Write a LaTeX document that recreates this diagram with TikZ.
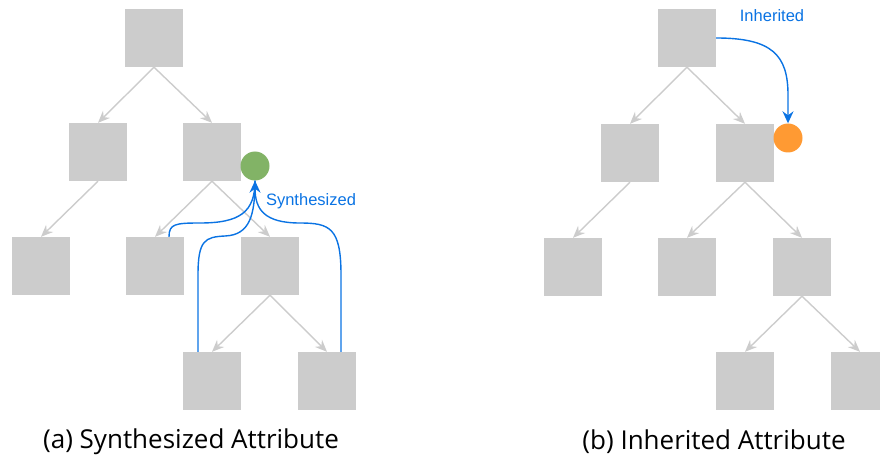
\documentclass[tikz,border=0pt]{standalone}
\usepackage{fontspec}
\setmainfont{Open Sans}
\newfontfamily\labelfont{Liberation Sans}
\usetikzlibrary{arrows.meta}
\definecolor{boxgray}{HTML}{CCCCCC}
\definecolor{edgeblue}{HTML}{0A73E3}
\definecolor{synthgreen}{HTML}{82B366}
\definecolor{inhorange}{HTML}{FF9A33}
\tikzset{
  treebox/.style={rectangle, fill=boxgray, minimum size=58pt, inner sep=0pt},
  treeedge/.style={draw=boxgray, line width=1.4pt, -{Stealth[length=12pt,width=10pt,inset=4pt]}},
  attrflow/.style={draw=edgeblue, line width=1.4pt},
  attrarrow/.style={attrflow, -{Stealth[length=12pt,width=11pt,inset=4pt]}},
  attrdot/.style={circle, minimum size=29pt, inner sep=0pt},
  attrlabel/.style={text=edgeblue, font=\labelfont\fontsize{16.5}{18}\selectfont, inner sep=0pt},
  caption/.style={font=\fontsize{26}{30}\selectfont, inner sep=0pt}
}
\begin{document}
\begin{tikzpicture}[x=1pt, y=-1pt]
\useasboundingbox (0,0) rectangle (880,465);
\clip (0,0) rectangle (880,465);

% (a) synthesized attribute tree
\node[treebox] (a1) at (154,38) {};
\node[treebox] (a2) at (98,152) {};
\node[treebox] (a3) at (212,152) {};
\node[treebox] (a4) at (41,266) {};
\node[treebox] (a5) at (155,266) {};
\node[treebox] (a6) at (270,266) {};
\node[treebox] (a7) at (212,381) {};
\node[treebox] (a8) at (327,381) {};
\foreach \p/\c in {a1/a2, a1/a3, a2/a4, a3/a5, a3/a6, a6/a7, a6/a8}
  \draw[treeedge] (\p.south) -- (\c.north);

\node[attrdot, fill=synthgreen] (g) at (255,166) {};
\coordinate (s1) at ([xshift=14pt]a5.north);
\coordinate (s2) at ([xshift=-14pt]a7.north);
\coordinate (s3) at ([xshift=14pt]a8.north);
\draw[attrflow] (s1) .. controls (169,224) and (175,223) .. (200,223)
  .. controls (240,223) and (255,212) .. (g.south);
\draw[attrflow] (s2) -- (198,275) .. controls (198,240) and (205,237) .. (225,236)
  .. controls (250,235) and (255,215) .. (g.south);
\draw[attrarrow] (s3) -- (341,275) .. controls (341,228) and (330,223) .. (300,223)
  .. controls (265,223) and (255,210) .. (g.south);
\node[attrlabel] (synlabel) at (311,201) {Synthesized};

% (b) inherited attribute tree
\node[treebox] (b1) at (687,38) {};
\node[treebox] (b2) at (630,153) {};
\node[treebox] (b3) at (745,153) {};
\node[treebox] (b4) at (573,267) {};
\node[treebox] (b5) at (687,267) {};
\node[treebox] (b6) at (802,267) {};
\node[treebox] (b7) at (745,381) {};
\node[treebox] (b8) at (860,381) {};
\foreach \p/\c in {b1/b2, b1/b3, b2/b4, b3/b5, b3/b6, b6/b7, b6/b8}
  \draw[treeedge] (\p.south) -- (\c.north);

\node[attrdot, fill=inhorange] (o) at (788,138) {};
\draw[attrarrow] (b1.east) .. controls (772,38) and (788,55) .. (788,95) -- (o.north);
\node[attrlabel] (inhlabel) at (772,16) {Inherited};

% captions
\node[caption] (capa) at (191,442) {(a) Synthesized Attribute};
\node[caption] (capb) at (714,442) {(b) Inherited Attribute};
\end{tikzpicture}
\end{document}
